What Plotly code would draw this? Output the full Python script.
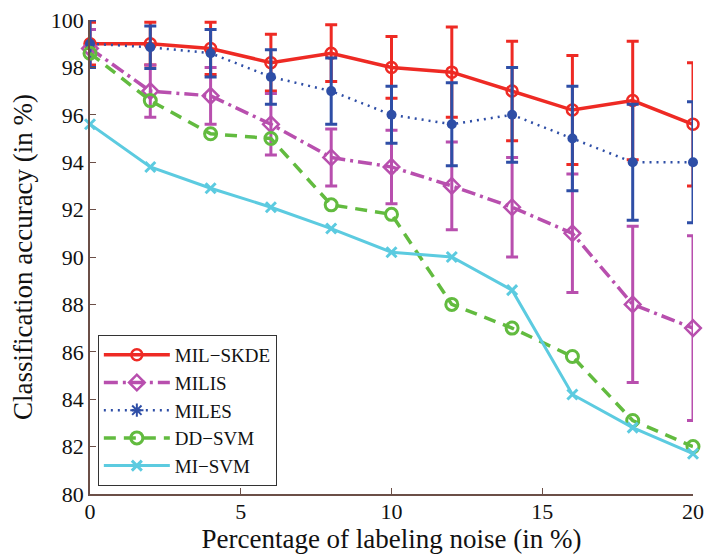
import plotly.graph_objects as go

noise = [0, 2, 4, 6, 8, 10, 12, 14, 16, 18, 20]

mil_skde = [99.0, 99.0, 98.8, 98.2, 98.6, 98.0, 97.8, 97.0, 96.2, 96.6, 95.6]
mil_skde_err = [0.9, 0.9, 1.1, 1.2, 1.2, 1.3, 1.9, 2.1, 2.3, 2.5, 2.6]

milis = [98.8, 97.0, 96.8, 95.6, 94.2, 93.8, 93.0, 92.1, 91.0, 88.0, 87.0]
milis_err = [0.8, 1.1, 1.2, 1.3, 1.2, 1.55, 1.85, 2.1, 2.5, 3.3, 3.9]

miles = [99.0, 98.85, 98.6, 97.6, 97.0, 96.0, 95.6, 96.0, 95.0, 94.0, 94.0]
miles_err = [1.0, 0.9, 1.0, 1.15, 1.4, 1.2, 1.75, 2.0, 2.2, 2.45, 2.55]

dd_svm = [98.6, 96.6, 95.2, 95.0, 92.2, 91.8, 88.0, 87.0, 85.8, 83.1, 82.0]
mi_svm = [95.6, 93.8, 92.9, 92.1, 91.2, 90.2, 90.0, 88.6, 84.2, 82.8, 81.7]

x_ticks = [0, 5, 10, 15, 20]
y_ticks = [80, 82, 84, 86, 88, 90, 92, 94, 96, 98, 100]

RED = "#ee2a24"
MAG = "#b84fae"
BLUE = "#2e4ea6"
GREEN = "#62bb3f"
CYAN = "#5ccbe0"

FONT = "Liberation Serif"

fig = go.Figure()

def err(vals, color, thick=3):
    return dict(type="data", array=vals, visible=True, color=color,
                thickness=thick, width=6)

fig.add_trace(go.Scatter(
    x=noise, y=mil_skde, name="MIL\u2212SKDE", mode="lines+markers",
    line=dict(color=RED, width=3.5),
    marker=dict(symbol="circle-open", size=11, color=RED, line=dict(width=2.5)),
    error_y=err(mil_skde_err, RED), cliponaxis=False))

fig.add_trace(go.Scatter(
    x=noise, y=milis, name="MILIS", mode="lines+markers",
    line=dict(color=MAG, width=3.5, dash="14px,5px,3px,5px"),
    marker=dict(symbol="diamond-open", size=12, color=MAG, line=dict(width=2.5)),
    error_y=err(milis_err, MAG), cliponaxis=False))

fig.add_trace(go.Scatter(
    x=noise, y=miles, name="MILES", mode="lines+markers",
    line=dict(color=BLUE, width=2.5, dash="2px,5px"),
    marker=dict(symbol="circle", size=10, color=BLUE),
    error_y=err(miles_err, BLUE), cliponaxis=False, showlegend=False))

fig.add_trace(go.Scatter(
    x=[None], y=[None], name="MILES", mode="lines+markers",
    line=dict(color=BLUE, width=2.5, dash="2px,5px"),
    marker=dict(symbol="asterisk-open", size=11, color=BLUE, line=dict(width=2, color=BLUE))))

fig.add_trace(go.Scatter(
    x=noise, y=dd_svm, name="DD\u2212SVM", mode="lines+markers",
    line=dict(color=GREEN, width=3.5, dash="12px,8px"),
    marker=dict(symbol="circle-open", size=12, color=GREEN, line=dict(width=3)),
    cliponaxis=False))

fig.add_trace(go.Scatter(
    x=noise, y=mi_svm, name="MI\u2212SVM", mode="lines+markers",
    line=dict(color=CYAN, width=3),
    marker=dict(symbol="x-thin-open", size=10, color=CYAN, line=dict(width=3, color=CYAN)),
    cliponaxis=False))

axis_color = "#6b4f47"

fig.update_layout(
    width=706, height=554,
    margin=dict(l=90, r=13, t=20, b=60),
    paper_bgcolor="white", plot_bgcolor="white",
    font=dict(family=FONT, size=22, color="#111111"),
    showlegend=True,
    legend=dict(
        x=0.013, y=0.017, xanchor="left", yanchor="bottom",
        bgcolor="white", bordercolor="#333333", borderwidth=1,
        font=dict(family=FONT, size=19, color="#111111"),
        itemwidth=66, tracegroupgap=0,
    ),
    xaxis=dict(
        range=[0, 20], tickvals=x_ticks, ticktext=[str(v) for v in x_ticks],
        showgrid=False, zeroline=False, showline=True, linecolor=axis_color,
        linewidth=1.5, ticks="inside", ticklen=6, tickcolor=axis_color,
        tickfont=dict(family=FONT, size=22), automargin=False,
        ticklabeloverflow="allow", ticklabelstandoff=-3,
        title=dict(text="Percentage of labeling noise (in %)",
                   font=dict(family=FONT, size=27), standoff=4),
    ),
    yaxis=dict(
        range=[80, 100], tickvals=y_ticks, ticktext=[str(v) for v in y_ticks],
        showgrid=False, zeroline=False, showline=True, linecolor=axis_color,
        linewidth=1.5, ticks="inside", ticklen=6, tickcolor=axis_color,
        tickfont=dict(family=FONT, size=22), automargin=False,
        ticklabeloverflow="allow",
        title=dict(text="Classification accuracy (in %)",
                   font=dict(family=FONT, size=27), standoff=10),
    ),
)

fig.write_html("out.html",
               config={"displayModeBar": False},
               post_script="document.body.style.margin='0';document.body.style.overflow='hidden';")
